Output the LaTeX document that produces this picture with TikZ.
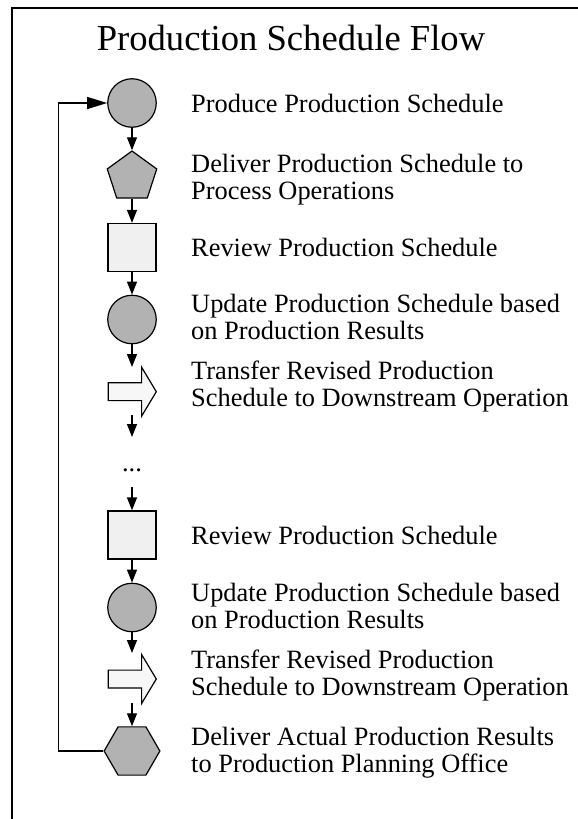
\documentclass[tikz,border=0pt]{standalone}
\usepackage{fontspec}
\setmainfont{Liberation Serif}
\usetikzlibrary{shapes.geometric,shapes.arrows,arrows.meta,positioning}

\tikzset{
  flowline/.style={line width=1.2pt},
  conn/.style={flowline,-{Triangle[length=13pt,width=10pt]}},
  task/.style={circle,draw,flowline,fill=black!30,minimum size=48.5pt,inner sep=0pt},
  handoff/.style={regular polygon,regular polygon sides=5,draw,flowline,fill=black!30,minimum size=52pt,inner sep=0pt},
  check/.style={rectangle,draw,flowline,fill=black!6,minimum size=48pt,inner sep=0pt},
  move/.style={single arrow,draw,flowline,fill=black!3,minimum height=48pt,minimum width=0pt,inner xsep=0pt,inner ysep=8.3pt,single arrow head extend=15.5pt,single arrow tip angle=118},
  report/.style={regular polygon,regular polygon sides=6,draw,flowline,fill=black!30,minimum size=55.7pt,inner sep=0pt},
  desc/.style={anchor=west,align=left,font=\fontsize{26.4}{27}\selectfont,inner sep=0pt},
}

\begin{document}
\begin{tikzpicture}[x=1pt,y=-1pt]
    \useasboundingbox (0,0) rectangle (578,819);
    \draw[flowline] (590,8) -- (12,8) -- (12,830);
    \node[font=\fontsize{36.6}{40}\selectfont] (title) at (291,38) {Production Schedule Flow};

    \node[task] (produce) at (132,103) {};
    \node[handoff] (handoff1) at (132,177) {};
    \node[check] (review1) at (132,247.5) {};
    \node[task] (update1) at (132,319.5) {};
    \node[move,anchor=tail] (transfer1) at (107.7,391.7) {};
    \coordinate (gap1) at (132,367);
    \coordinate (gap2) at (132,415);
    \coordinate (gap3) at (132,437);
    \node[desc,anchor=center] (dots) at (132,470) {...};
    \coordinate (gap4) at (132,487);
    \node[check] (review2) at (132,535) {};
    \node[task] (update2) at (132,607.5) {};
    \coordinate (gap5) at (132,653);
    \node[move,anchor=tail] (transfer2) at (107.7,679) {};
    \coordinate (gap6) at (132,703);
    \node[report] (deliver) at (132,751) {};

    \node[desc] (produceText) at (191,103) {Produce Production Schedule};
    \node[desc] (handoffText) at (191,179.5) {Deliver Production Schedule to\\Process Operations};
    \node[desc] (review1Text) at (191,247.5) {Review Production Schedule};
    \node[desc] (update1Text) at (191,316.5) {Update Production Schedule based\\on Production Results};
    \node[desc] (transfer1Text) at (191,387) {Transfer Revised Production\\Schedule to Downstream Operation};
    \node[desc] (review2Text) at (191,535) {Review Production Schedule};
    \node[desc] (update2Text) at (191,605.5) {Update Production Schedule based\\on Production Results};
    \node[desc] (transfer2Text) at (191,675.5) {Transfer Revised Production\\Schedule to Downstream Operation};
    \node[desc] (deliverText) at (191,752.5) {Deliver Actual Production Results\\to Production Planning Office};

    \draw[conn] (produce) -- (handoff1);
    \draw[conn] (handoff1) -- (review1);
    \draw[conn] (review1) -- (update1);
    \draw[conn] (update1) -- (gap1);
    \draw[conn] (gap2) -- (gap3);
    \draw[conn] (gap4) -- (review2);
    \draw[conn] (review2) -- (update2);
    \draw[conn] (update2) -- (gap5);
    \draw[conn] (gap6) -- (deliver);
    \draw[flowline,-{Triangle[length=20pt,width=12pt]}] (deliver.west) -- ++(-45,0) |- (produce.west);
\end{tikzpicture}
\end{document}
